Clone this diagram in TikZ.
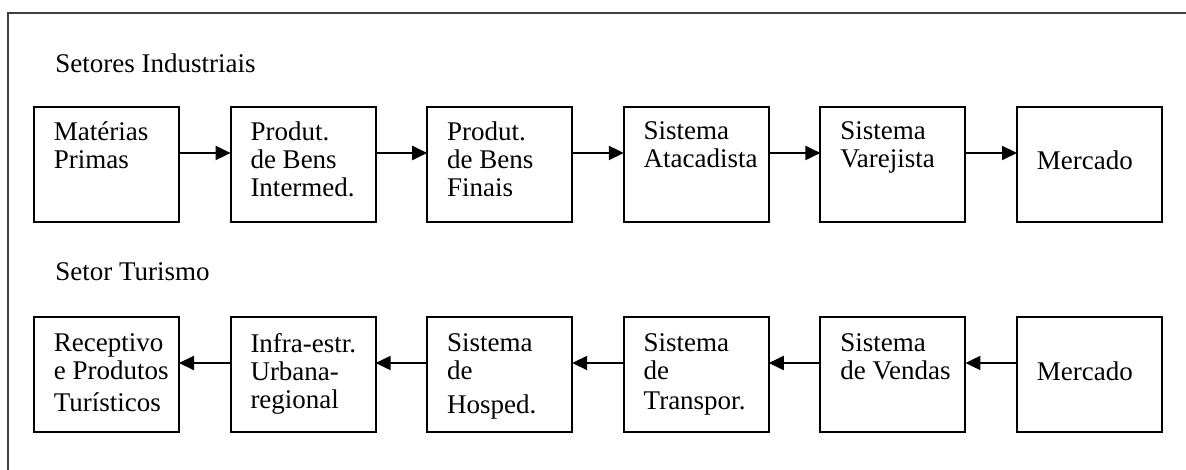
\documentclass[tikz,border=0pt]{standalone}
\usepackage{fontspec}
\setmainfont{Liberation Serif}
\usetikzlibrary{positioning,arrows.meta}

\tikzset{
  caixa/.style={draw, line width=1pt, minimum width=72.5pt, minimum height=57.5pt, inner sep=0pt, outer sep=0pt},
  texto/.style={anchor=north west, align=left, inner sep=0pt, font=\fontsize{13.5}{14}\selectfont},
  titulo/.style={anchor=base west, inner sep=0pt, font=\fontsize{13.5}{14}\selectfont},
  seta/.style={line width=1pt, -{Triangle[length=7.5pt,width=7pt]}},
}

\begin{document}
\begin{tikzpicture}[x=0.5pt,y=0.5pt]
  \useasboundingbox (0,0) rectangle (1186,470);

  % 外枠
  \draw[line width=1pt, black!75] (8,-2) -- (8,457) -- (1188,457);

  % 見出し
  \node[titulo] (T1) at (55,397) {Setores Industriais};
  \node[titulo] (T2) at (55,189) {Setor Turismo};

  % 上段の箱
  \foreach \t/\dy [count=\i] in {{Matérias\\Primas}/-7.25pt, {Produt.\\de Bens\\Intermed.}/-7.25pt,
      {Produt.\\de Bens\\Finais}/-7.25pt, {Sistema\\Atacadista}/-7.25pt,
      {Sistema\\Varejista}/-7.25pt, {Mercado}/-21.5pt} {
    \node[caixa] (A\i) at ({106.5+196.6*(\i-1)},305.5) {};
    \node[texto] (TA\i) at ([xshift=9.75pt,yshift=\dy]A\i.north west) {\t};
  }

  % 下段の箱
  \foreach \t/\dy [count=\i] in {{Receptivo\\e Produtos\\[2pt]Turísticos}/-8pt,
      {Infra-estr.\\Urbana-\\regional}/-8pt, {Sistema\\de\\[3pt]Hosped.}/-8pt,
      {Sistema\\de\\[1pt]Transpor.}/-8pt, {Sistema\\de Vendas}/-8pt, {Mercado}/-22pt} {
    \node[caixa] (B\i) at ({106.5+196.6*(\i-1)},95.5) {};
    \node[texto] (TB\i) at ([xshift=9.75pt,yshift=\dy]B\i.north west) {\t};
  }

  % 矢印
  \foreach \i in {1,...,5} {
    \pgfmathtruncatemacro\j{\i+1}
    \draw[seta] ([yshift=5.75pt]A\i.east) -- ([yshift=5.75pt]A\j.west);
    \draw[seta] ([yshift=5.75pt]B\j.west) -- ([yshift=5.75pt]B\i.east);
  }
\end{tikzpicture}
\end{document}
